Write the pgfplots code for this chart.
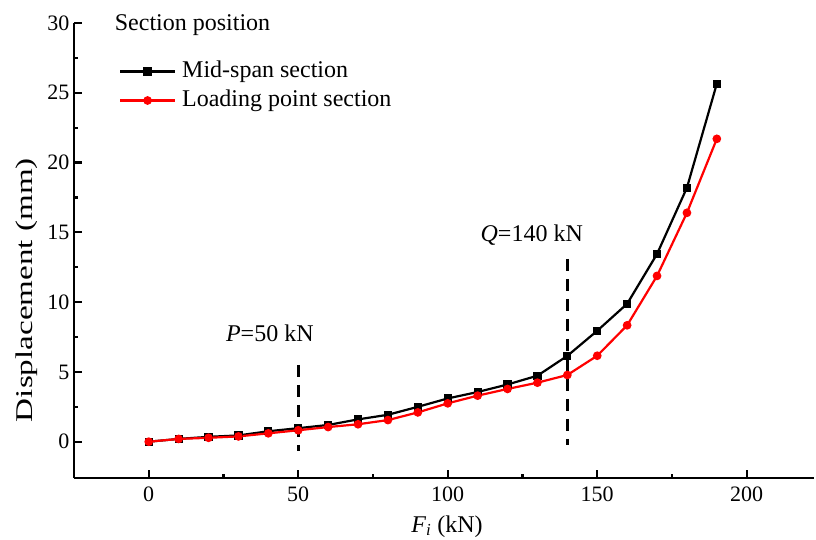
\documentclass[border=0pt]{standalone}
\usepackage{fontspec}
\setmainfont{Liberation Serif}
\usepackage{graphicx}
\usepackage{pgfplots}
\pgfplotsset{compat=1.18}
\begin{document}
\begin{tikzpicture}[font=\fontsize{24bp}{28bp}\selectfont]
\begin{axis}[
  at={(74bp,62bp)}, anchor=south west,
  scale only axis, clip=false,
  width=740bp, height=455bp,
  xmin=-25, xmax=222.5, ymin=-2.6, ymax=30,
  axis x line=bottom, axis y line=left,
  axis line style={-, line width=2.2bp},
  xtick={0,50,100,150,200},
  ytick={0,5,10,15,20,25,30},
  minor x tick num=1, minor y tick num=1,
  tick align=inside,
  major tick length=8bp, minor tick length=4bp,
  every tick/.style={black, line width=2.2bp},
  /pgf/number format/assume math mode=true,
  tick label style={font=\fontsize{22bp}{26bp}\selectfont, black},
  xticklabel style={yshift=-5bp},
  yticklabel style={xshift=-1bp},
  xlabel={\textit{F}\textsubscript{\textit{i}} (kN)},
  ylabel={\scalebox{1.38}[1]{Displacement (mm)}},
  xlabel style={at={(axis description cs:0.504,-0.106)}, anchor=center, font=\fontsize{24bp}{28bp}\selectfont},
  ylabel style={at={(axis description cs:-0.064,0.413)}, anchor=center, font=\fontsize{24bp}{28bp}\selectfont},
  legend style={draw=none, fill=none, at={(axis description cs:0.0605,0.918)}, anchor=north west,
    font=\fontsize{24bp}{28bp}\selectfont, row sep=7bp, column sep=6bp, inner sep=0pt,
    nodes={inner sep=0pt, text height=17bp, text depth=5bp}},
  legend cell align=left,
  legend image code/.code={\draw[mark repeat=2,mark phase=2,#1] plot coordinates {(0bp,0bp) (27.5bp,0bp) (55bp,0bp)};},
]
\addplot[black, line width=2.2bp, mark=square*, mark size=3bp, mark options={solid}] coordinates {
(0,0) (10,0.2) (20,0.35) (30,0.45) (40,0.75) (50,0.97) (60,1.2) (70,1.6) (80,1.93) (90,2.5)
(100,3.1) (110,3.56) (120,4.1) (130,4.73) (140,6.15) (150,7.95) (160,9.88) (170,13.45) (180,18.2) (190,25.65)};
\addlegendentry{Mid-span section}
\addplot[red, line width=2.2bp, mark=*, mark size=3.2bp, mark options={solid}] coordinates {
(0,0) (10,0.2) (20,0.28) (30,0.38) (40,0.6) (50,0.82) (60,1.05) (70,1.25) (80,1.55) (90,2.1)
(100,2.75) (110,3.3) (120,3.78) (130,4.23) (140,4.78) (150,6.16) (160,8.34) (170,11.88) (180,16.4) (190,21.7)};
\addlegendentry{Loading point section}
\addplot[black, line width=2.8bp, dash pattern=on 12bp off 8bp, forget plot] coordinates {(50,5.5) (50,-0.7)};
\addplot[black, line width=2.8bp, dash pattern=on 12bp off 8bp, forget plot] coordinates {(140,13.1) (140,-0.25)};
\node[anchor=center] at (axis cs:40.5,7.8) {\textit{P}=50 kN};
\node[anchor=center] at (axis cs:128.1,14.8) {\textit{Q}=140 kN};
\node[anchor=west, inner sep=0pt] at (axis cs:-11.4,29.85) {Section position};
\end{axis}
\pgfresetboundingbox
\path[use as bounding box] (0,0) rectangle (816bp,540bp);
\end{tikzpicture}
\end{document}
